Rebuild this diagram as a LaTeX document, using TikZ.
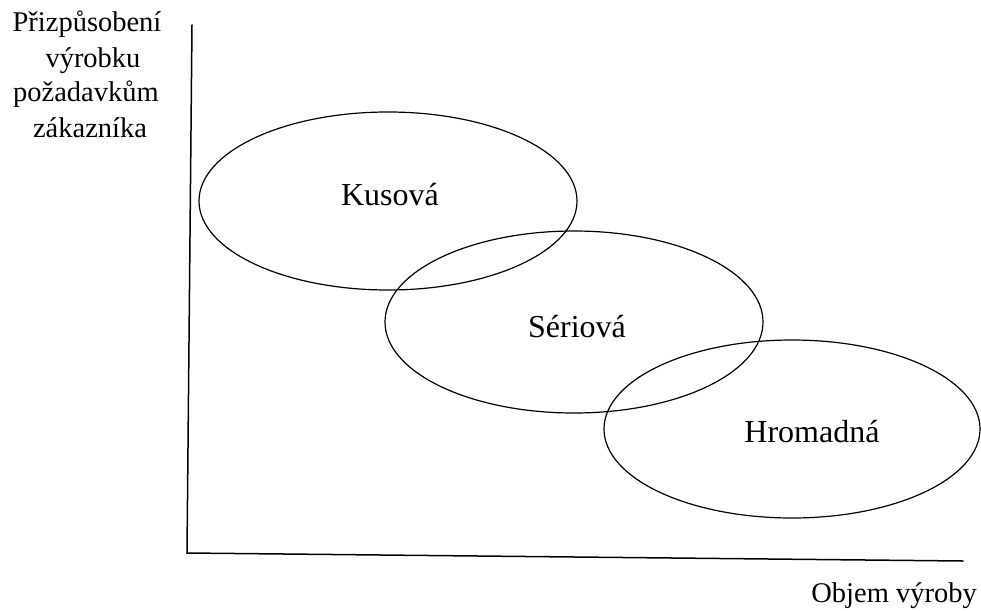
\documentclass[tikz,border=0pt]{standalone}
\usepackage{fontspec}
\setmainfont{Liberation Serif}
\begin{document}
\begin{tikzpicture}[x=1pt,y=-1pt,
  axis/.style={line width=1.5pt, line cap=round, line join=miter},
  zone/.style={line width=1.2pt},
  zonelabel/.style={anchor=base, inner sep=0pt, font=\fontsize{32}{38}\selectfont},
  axlabel/.style={anchor=base, inner sep=0pt, font=\fontsize{28.5}{35}\selectfont}]
\useasboundingbox (0,0) rectangle (981,610);
% axes
\coordinate (ytop) at (192,25);
\coordinate (origin) at (187,553);
\coordinate (xend) at (963,561);
\draw[axis] (ytop) -- (origin) -- (xend);
% zones
\draw[zone] (388,201) ellipse [x radius=189, y radius=89];
\draw[zone] (574,322) ellipse [x radius=189, y radius=91];
\draw[zone] (792,429) ellipse [x radius=188, y radius=89];
\node[zonelabel] (kus) at (390,205) {Kusová};
\node[zonelabel] (ser) at (577,337) {Sériová};
\node[zonelabel] (hro) at (812,442) {Hromadná};
% axis labels
\node[axlabel] (l1) at (87,32) {Přizpůsobení};
\node[axlabel] (l2) at (93,67) {výrobku};
\node[axlabel] (l3) at (86,101) {požadavkům};
\node[axlabel] (l4) at (90,137) {zákazníka};
\node[axlabel, anchor=base east] (xl) at (977,602) {Objem výroby};
\end{tikzpicture}
\end{document}
